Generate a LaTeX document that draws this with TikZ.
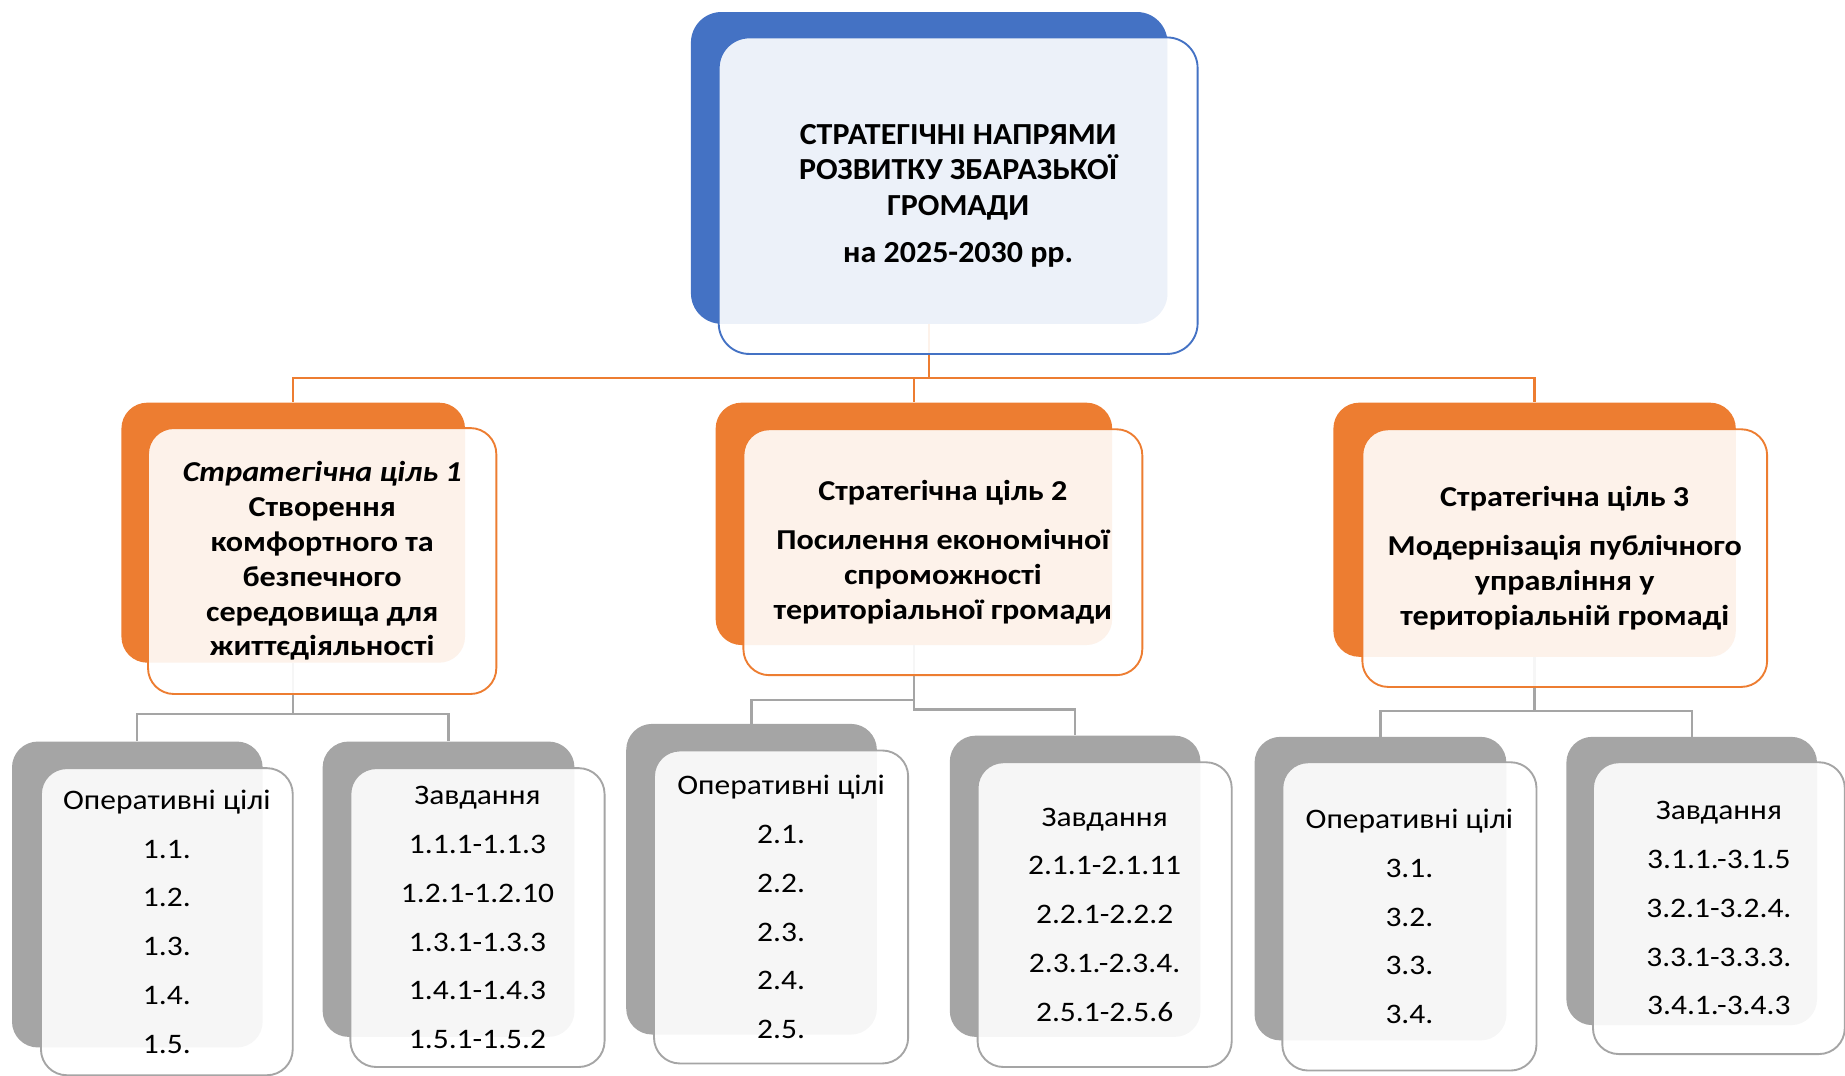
\documentclass[tikz,border=0pt]{standalone}
\usepackage{fontspec}
\setmainfont{Carlito}[FakeStretch=1.115]
\newfontfamily\titlefam{Carlito}[FakeStretch=1.045]
\usepackage{tikz}
\definecolor{accblue}{HTML}{4472C4}
\definecolor{accorange}{HTML}{ED7D31}
\definecolor{accgrey}{HTML}{A5A5A5}
\tikzset{
  boxsize/.style 2 args={
    minimum width=#1pt,
    minimum height=#2pt
  },
  backbox/.style={
    rectangle,
    rounded corners=22pt,
    fill=#1,
    anchor=north west,
    inner sep=0pt
  },
  frontbox/.style={
    rectangle,
    rounded corners=22pt,
    draw=#1,
    line width=1.6pt,
    fill=white,
    fill opacity=0.9,
    text opacity=1,
    anchor=north west,
    align=center,
    inner sep=0pt
  },
  link/.style={
    draw=#1,
    line width=2pt
  },
  titlefont/.style={font=\titlefam\fontsize{26}{30}\selectfont\bfseries},
  goalfont/.style={font=\fontsize{24.5}{29.6}\selectfont\bfseries},
  itemfont/.style={font=\fontsize{24}{41.5}\selectfont}
}

\begin{document}
\begin{tikzpicture}[x=1pt, y=-1pt]
    \useasboundingbox (0,0) rectangle (1568,914);

    % back boxes
    \node[backbox=accblue, boxsize={405}{265}, rounded corners=26pt] (topback) at (587,10) {};
    \node[backbox=accorange, boxsize={292}{221}] (g1back) at (103,342) {};
    \node[backbox=accorange, boxsize={337}{206}] (g2back) at (608,342) {};
    \node[backbox=accorange, boxsize={342}{216}] (g3back) at (1133,342) {};
    \node[backbox=accgrey, boxsize={213}{260}] (oc1back) at (10,630) {};
    \node[backbox=accgrey, boxsize={214}{251}] (t1back) at (274,630) {};
    \node[backbox=accgrey, boxsize={213}{264}] (oc2back) at (532,615) {};
    \node[backbox=accgrey, boxsize={213}{256}] (t2back) at (807,625) {};
    \node[backbox=accgrey, boxsize={214}{258}] (oc3back) at (1066,626) {};
    \node[backbox=accgrey, boxsize={213}{245}] (t3back) at (1331,626) {};

    % connectors
    \coordinate (bus0) at (0,321);
    \coordinate (bus1) at (0,607);
    \coordinate (bus2a) at (0,595);
    \coordinate (bus2b) at (0,603);
    \coordinate (bus3) at (0,604);

    \draw[link=accorange] (topback.south) -- (topback.south |- bus0) -| (g1back.north);
    \draw[link=accorange] (topback.south |- bus0) -| (g2back.north);
    \draw[link=accorange] (topback.south |- bus0) -| (g3back.north);

    \draw[link=accgrey] (g1back.south) -- (g1back.south |- bus1) -| (oc1back.north);
    \draw[link=accgrey] (g1back.south |- bus1) -| (t1back.north);
    \draw[link=accgrey] (g2back.south) -- (g2back.south |- bus2a) -| (oc2back.north);
    \draw[link=accgrey] (g2back.south |- bus2a) -- (g2back.south |- bus2b) -| (t2back.north);
    \draw[link=accgrey] (g3back.south) -- (g3back.south |- bus3) -| (oc3back.north);
    \draw[link=accgrey] (g3back.south |- bus3) -| (t3back.north);

    % front boxes
    \node[frontbox=accblue, boxsize={407}{269}, rounded corners=26pt, titlefont] (top) at (610,31)
        {СТРАТЕГІЧНІ НАПРЯМИ\\ РОЗВИТКУ ЗБАРАЗЬКОЇ\\ ГРОМАДИ\\[10pt] на 2025-2030 рр.};

    \node[frontbox=accorange, boxsize={296}{226}, goalfont] (g1) at (125,363)
        {\textit{Стратегічна ціль 1}\\ Створення\\ комфортного та\\ безпечного\\ середовища для\\ життєдіяльності};
    \node[frontbox=accorange, boxsize={339}{209}, goalfont] (g2) at (631,364)
        {Стратегічна ціль 2\\[12.5pt] Посилення економічної\\ спроможності\\ територіальної громади};
    \node[frontbox=accorange, boxsize={344}{219}, goalfont] (g3) at (1157,364)
        {Стратегічна ціль 3\\[12.5pt] Модернізація публічного\\ управління у\\ територіальній громаді};

    \node[frontbox=accgrey, boxsize={214}{261}, itemfont] (oc1) at (34,652)
        {Оперативні цілі\\ 1.1.\\ 1.2.\\ 1.3.\\ 1.4.\\ 1.5.};
    \node[frontbox=accgrey, boxsize={216}{254}, itemfont] (t1) at (297,652)
        {Завдання\\ 1.1.1-1.1.3\\ 1.2.1-1.2.10\\ 1.3.1-1.3.3\\ 1.4.1-1.4.3\\ 1.5.1-1.5.2};
    \node[frontbox=accgrey, boxsize={216}{266}, itemfont] (oc2) at (555,637)
        {Оперативні цілі\\ 2.1.\\ 2.2.\\ 2.3.\\ 2.4.\\ 2.5.};
    \node[frontbox=accgrey, boxsize={216}{259}, itemfont] (t2) at (830,647)
        {Завдання\\ 2.1.1-2.1.11\\ 2.2.1-2.2.2\\ 2.3.1.-2.3.4.\\ 2.5.1-2.5.6};
    \node[frontbox=accgrey, boxsize={216}{262}, itemfont] (oc3) at (1089,647)
        {Оперативні цілі\\ 3.1.\\ 3.2.\\ 3.3.\\ 3.4.};
    \node[frontbox=accgrey, boxsize={214}{248}, itemfont] (t3) at (1353,647)
        {Завдання\\ 3.1.1.-3.1.5\\ 3.2.1-3.2.4.\\ 3.3.1-3.3.3.\\ 3.4.1.-3.4.3};
\end{tikzpicture}
\end{document}
